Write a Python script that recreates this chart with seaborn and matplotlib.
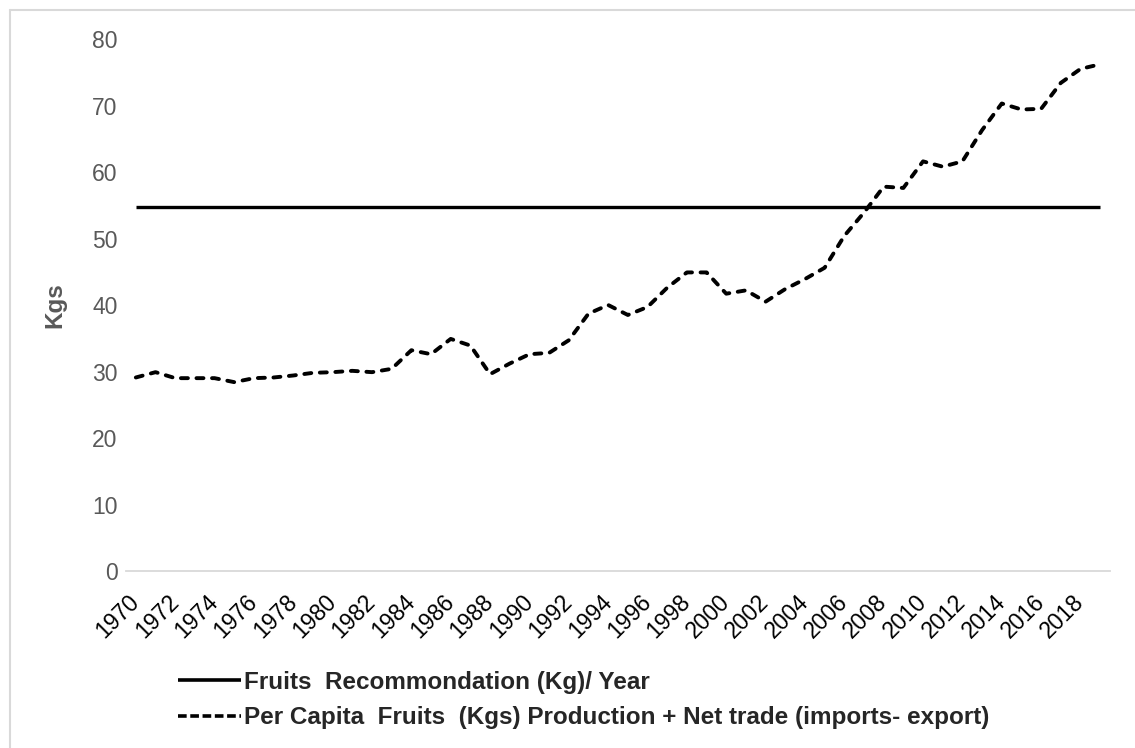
import matplotlib
matplotlib.use("Agg")
import matplotlib.pyplot as plt
import seaborn as sns
import pandas as pd
from matplotlib.lines import Line2D

# ---------------- data ----------------
years = list(range(1970, 2020))
per_capita_kgs = [
    29.1, 29.9, 29.0, 29.0, 29.0, 28.4, 29.0, 29.1, 29.4, 29.8,
    29.9, 30.1, 29.9, 30.4, 33.2, 32.6, 34.9, 33.9, 29.6, 31.2,
    32.6, 32.8, 34.7, 38.7, 40.0, 38.5, 39.7, 42.6, 44.9, 44.9,
    41.7, 42.2, 40.5, 42.4, 43.9, 45.6, 50.4, 53.9, 57.8, 57.6,
    61.6, 60.8, 61.6, 66.3, 70.3, 69.4, 69.5, 73.4, 75.5, 76.2,
]
recommendation_kg = 54.75
tick_years = list(range(1970, 2019, 2))
y_ticks = [0, 10, 20, 30, 40, 50, 60, 70, 80]
label_reco = "Fruits  Recommondation (Kg)/ Year"
label_pc = "Per Capita  Fruits  (Kgs) Production + Net trade (imports- export)"

df = pd.DataFrame({
    "year": years,
    "per_capita": per_capita_kgs,
    "recommendation": [recommendation_kg] * len(years),
})

# ---------------- style ----------------
sns.set_theme(style="white")
plt.rcParams["font.family"] = ["Liberation Sans", "DejaVu Sans"]

W, H = 1135, 748
fig = plt.figure(figsize=(W / 100, H / 100), dpi=100)
fig.patch.set_facecolor("white")

ax_left, ax_right, ax_top, ax_bot = 126, 1110, 39, 571
ax = fig.add_axes([ax_left / W, 1 - ax_bot / H, (ax_right - ax_left) / W, (ax_bot - ax_top) / H])

sns.lineplot(data=df, x="year", y="recommendation", ax=ax, color="black",
             linewidth=2.4, solid_capstyle="butt")
sns.lineplot(data=df, x="year", y="per_capita", ax=ax, color="black",
             linewidth=2.8, dashes=False)
ax.lines[-1].set_dashes((1.8, 2.2))
ax.lines[-1].set_dash_capstyle("round")

ax.set_xlim(1969.5, 2019.5)
ax.set_ylim(0, 80)
ax.set_xticks(tick_years)
ax.set_xticklabels([str(y) for y in tick_years], rotation=45, ha="right",
                   rotation_mode="anchor", va="center", fontsize=16.5, color="black")
ax.set_yticks(y_ticks)
ax.set_yticklabels([str(v) for v in y_ticks], fontsize=16.5, color="#595959")
ax.tick_params(axis="x", length=0, pad=20)
ax.tick_params(axis="y", length=0, pad=6)

for s in ["top", "right", "left"]:
    ax.spines[s].set_visible(False)
ax.spines["bottom"].set_color("#d9d9d9")
ax.spines["bottom"].set_linewidth(1.3)
ax.grid(False)

ax.set_xlabel("")
ax.set_ylabel("Kgs", fontsize=17.5, fontweight="bold", color="#595959")
ax.yaxis.set_label_coords((66 - ax_left) / (ax_right - ax_left), 0.5)

# legend
handles = [
    Line2D([], [], color="black", linewidth=2.6, solid_capstyle="butt"),
    Line2D([], [], color="black", linewidth=2.6, linestyle=(0, (2.4, 1.0))),
]
leg = fig.legend(handles, [label_reco, label_pc], loc="center left",
                 bbox_to_anchor=(178 / W, 1 - 700 / H), frameon=False,
                 borderpad=0, borderaxespad=0, handlelength=2.6, handletextpad=0.12,
                 labelspacing=0.5, prop={"weight": "bold", "size": 17.5})

# outer chart-area frame (left and top edges visible)
fig.add_artist(Line2D([10 / W, 10 / W], [0, 1 - 10 / H], transform=fig.transFigure,
                      color="#d9d9d9", linewidth=1.5))
fig.add_artist(Line2D([10 / W, 1], [1 - 10 / H, 1 - 10 / H], transform=fig.transFigure,
                      color="#d9d9d9", linewidth=1.5))

fig.savefig("out.png", dpi=100, facecolor="white")
